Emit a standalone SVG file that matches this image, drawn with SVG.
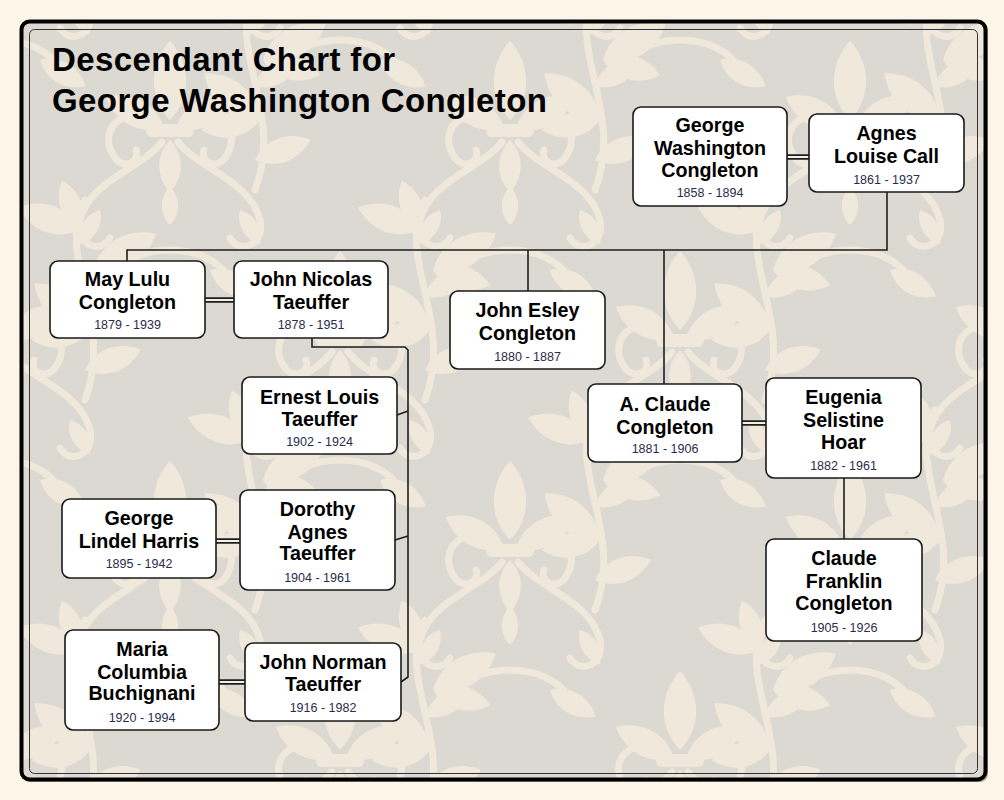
<svg xmlns="http://www.w3.org/2000/svg" width="1004" height="800" viewBox="0 0 1004 800">
<style>
.box{fill:#ffffff;stroke:#1a1a1a;stroke-width:1.6}
.nm{font-family:"Liberation Sans",Arial,sans-serif;font-weight:bold;font-size:19.7px;fill:#000;text-anchor:middle}
.dt{font-family:"Liberation Sans",Arial,sans-serif;font-size:12.5px;fill:#2b2b4b;text-anchor:middle}
.ln{fill:none;stroke:#1e1e1e;stroke-width:1.6}
.sp1{stroke:#1e1e1e;stroke-width:5.5}
.sp2{stroke:#f4f0e6;stroke-width:2}
.title{font-family:"Liberation Sans",Arial,sans-serif;font-weight:bold;font-size:33px;letter-spacing:0.4px;fill:#000}
.dm{fill:#f1e8dc}
.dms{fill:none;stroke:#f1e8dc;stroke-width:7;stroke-linecap:round}
</style>
<defs>
<path id="leaf" d="M0 0 C18 -18 18 -46 0 -66 C-18 -46 -18 -18 0 0Z"/>
<g id="fleur">
<use href="#leaf" class="dm" transform="scale(1.2)"/>
<use href="#leaf" class="dm" transform="translate(-6,8) rotate(-62) scale(1)"/>
<use href="#leaf" class="dm" transform="translate(6,8) rotate(62) scale(1)"/>
<path class="dms" d="M-10 6 C-45 -20 -75 10 -55 38 C-45 50 -30 42 -34 30"/>
<path class="dms" d="M10 6 C45 -20 75 10 55 38 C45 50 30 42 34 30"/>
<rect class="dm" x="-24" y="4" width="48" height="13" rx="6"/>
<use href="#leaf" class="dm" transform="translate(0,20) rotate(180) scale(0.8)"/>
<path class="dms" d="M-8 22 C-30 50 -80 60 -90 100 C-95 125 -70 135 -60 118"/>
<path class="dms" d="M8 22 C30 50 80 60 90 100 C95 125 70 135 60 118"/>
<use href="#leaf" class="dm" transform="translate(0,105) scale(0.6)"/>
<path class="dms" d="M-60 160 C-40 120 40 120 60 160"/>
<use href="#leaf" class="dm" transform="translate(-40,150) rotate(-120) scale(0.8)"/>
<use href="#leaf" class="dm" transform="translate(40,150) rotate(120) scale(0.8)"/>
<use href="#leaf" class="dm" transform="translate(-70,90) rotate(-150) scale(0.6)"/>
<use href="#leaf" class="dm" transform="translate(70,90) rotate(150) scale(0.6)"/>
</g>
<g id="vine">
<path class="dms" d="M0 0 C-30 60 30 120 0 200" stroke-width="5"/>
<use href="#leaf" class="dm" transform="translate(-5,30) rotate(-70) scale(1)"/>
<use href="#leaf" class="dm" transform="translate(-5,30) rotate(-20) scale(0.8)"/>
<use href="#leaf" class="dm" transform="translate(8,70) rotate(60) scale(1.1)"/>
<use href="#leaf" class="dm" transform="translate(8,70) rotate(105) scale(0.9)"/>
<use href="#leaf" class="dm" transform="translate(5,130) rotate(-50) scale(1.1)"/>
<use href="#leaf" class="dm" transform="translate(5,130) rotate(-100) scale(0.9)"/>
<use href="#leaf" class="dm" transform="translate(0,170) rotate(70) scale(0.9)"/>
</g>
<pattern id="damask" patternUnits="userSpaceOnUse" x="0" y="0" width="340" height="420">
<rect width="340" height="420" fill="#dbd9d1"/>
<use href="#fleur" transform="translate(170,120)"/>
<use href="#fleur" transform="translate(0,330)"/>
<use href="#fleur" transform="translate(340,330)"/>
<use href="#fleur" transform="translate(0,-90)"/>
<use href="#fleur" transform="translate(340,-90)"/>
<use href="#vine" transform="translate(85,200)"/>
<use href="#vine" transform="translate(255,-10)"/>
<use href="#vine" transform="translate(255,410)"/>
<use href="#vine" transform="translate(85,-220)"/>
</pattern>
</defs>
<rect x="0" y="0" width="1004" height="800" fill="#fdf5e8"/>
<g id="frame">
<rect x="23" y="23" width="965" height="759" rx="8" fill="#2a2a2a" opacity="0.35"/>
<rect x="21.5" y="21.5" width="964" height="758" rx="8" fill="url(#damask)" stroke="#000" stroke-width="4"/>
<rect x="29.5" y="29.5" width="948" height="744" rx="5" fill="none" stroke="#333" stroke-width="1"/>
</g>
<g id="title">
<text class="title" x="52" y="71">Descendant Chart for</text>
<text class="title" x="52" y="112">George Washington Congleton</text>
</g>
<g id="connectors">
<line class="sp1" x1="787" y1="157" x2="809" y2="157"/><line class="sp2" x1="787" y1="157" x2="809" y2="157"/>
<line class="sp1" x1="205" y1="300" x2="234" y2="300"/><line class="sp2" x1="205" y1="300" x2="234" y2="300"/>
<line class="sp1" x1="216" y1="541" x2="240" y2="541"/><line class="sp2" x1="216" y1="541" x2="240" y2="541"/>
<line class="sp1" x1="219" y1="682" x2="245" y2="682"/><line class="sp2" x1="219" y1="682" x2="245" y2="682"/>
<line class="sp1" x1="742" y1="423" x2="766" y2="423"/><line class="sp2" x1="742" y1="423" x2="766" y2="423"/>
<path class="ln" d="M887 192 V250 H127 V261"/>
<path class="ln" d="M528 250 V291"/>
<path class="ln" d="M664 250 V384"/>
<path class="ln" d="M312 338 V347 H405 L408 350 V677 L401 682"/>
<path class="ln" d="M397 415 L408 411"/>
<path class="ln" d="M395 540 L408 536"/>
<path class="ln" d="M844 478 V539"/>
</g>
<g id="n1"><rect class="box" x="633" y="107" width="154" height="99" rx="8"/><text class="nm" x="710" y="132">George</text><text class="nm" x="710" y="155">Washington</text><text class="nm" x="710" y="177">Congleton</text><text class="dt" x="710" y="196.5">1858 - 1894</text></g>
<g id="n2"><rect class="box" x="809" y="114" width="155" height="78" rx="8"/><text class="nm" x="886.5" y="140">Agnes</text><text class="nm" x="886.5" y="163">Louise Call</text><text class="dt" x="886.5" y="183.5">1861 - 1937</text></g>
<g id="n3"><rect class="box" x="50" y="261" width="155" height="77" rx="8"/><text class="nm" x="127.5" y="286">May Lulu</text><text class="nm" x="127.5" y="309">Congleton</text><text class="dt" x="127.5" y="328.5">1879 - 1939</text></g>
<g id="n4"><rect class="box" x="234" y="261" width="154" height="77" rx="8"/><text class="nm" x="311" y="286">John Nicolas</text><text class="nm" x="311" y="309">Taeuffer</text><text class="dt" x="311" y="328.5">1878 - 1951</text></g>
<g id="n5"><rect class="box" x="242" y="377" width="155" height="77" rx="8"/><text class="nm" x="319.5" y="404">Ernest Louis</text><text class="nm" x="319.5" y="426">Taeuffer</text><text class="dt" x="319.5" y="445.5">1902 - 1924</text></g>
<g id="n6"><rect class="box" x="240" y="490" width="155" height="100" rx="8"/><text class="nm" x="317.5" y="516">Dorothy</text><text class="nm" x="317.5" y="539">Agnes</text><text class="nm" x="317.5" y="560">Taeuffer</text><text class="dt" x="317.5" y="581.5">1904 - 1961</text></g>
<g id="n7"><rect class="box" x="62" y="499" width="154" height="79" rx="8"/><text class="nm" x="139" y="525">George</text><text class="nm" x="139" y="548">Lindel Harris</text><text class="dt" x="139" y="567.5">1895 - 1942</text></g>
<g id="n8"><rect class="box" x="65" y="630" width="154" height="100" rx="8"/><text class="nm" x="142" y="656">Maria</text><text class="nm" x="142" y="679">Columbia</text><text class="nm" x="142" y="700">Buchignani</text><text class="dt" x="142" y="721.5">1920 - 1994</text></g>
<g id="n9"><rect class="box" x="245" y="643" width="156" height="78" rx="8"/><text class="nm" x="323" y="669">John Norman</text><text class="nm" x="323" y="691">Taeuffer</text><text class="dt" x="323" y="711.5">1916 - 1982</text></g>
<g id="n10"><rect class="box" x="450" y="291" width="155" height="78" rx="8"/><text class="nm" x="527.5" y="317">John Esley</text><text class="nm" x="527.5" y="340">Congleton</text><text class="dt" x="527.5" y="360.5">1880 - 1887</text></g>
<g id="n11"><rect class="box" x="588" y="384" width="154" height="78" rx="8"/><text class="nm" x="665" y="411">A. Claude</text><text class="nm" x="665" y="434">Congleton</text><text class="dt" x="665" y="452.5">1881 - 1906</text></g>
<g id="n12"><rect class="box" x="766" y="378" width="155" height="100" rx="8"/><text class="nm" x="843.5" y="404">Eugenia</text><text class="nm" x="843.5" y="427">Selistine</text><text class="nm" x="843.5" y="449">Hoar</text><text class="dt" x="843.5" y="469.5">1882 - 1961</text></g>
<g id="n13"><rect class="box" x="766" y="539" width="156" height="102" rx="8"/><text class="nm" x="844" y="565">Claude</text><text class="nm" x="844" y="588">Franklin</text><text class="nm" x="844" y="610">Congleton</text><text class="dt" x="844" y="631.5">1905 - 1926</text></g>
</svg>
